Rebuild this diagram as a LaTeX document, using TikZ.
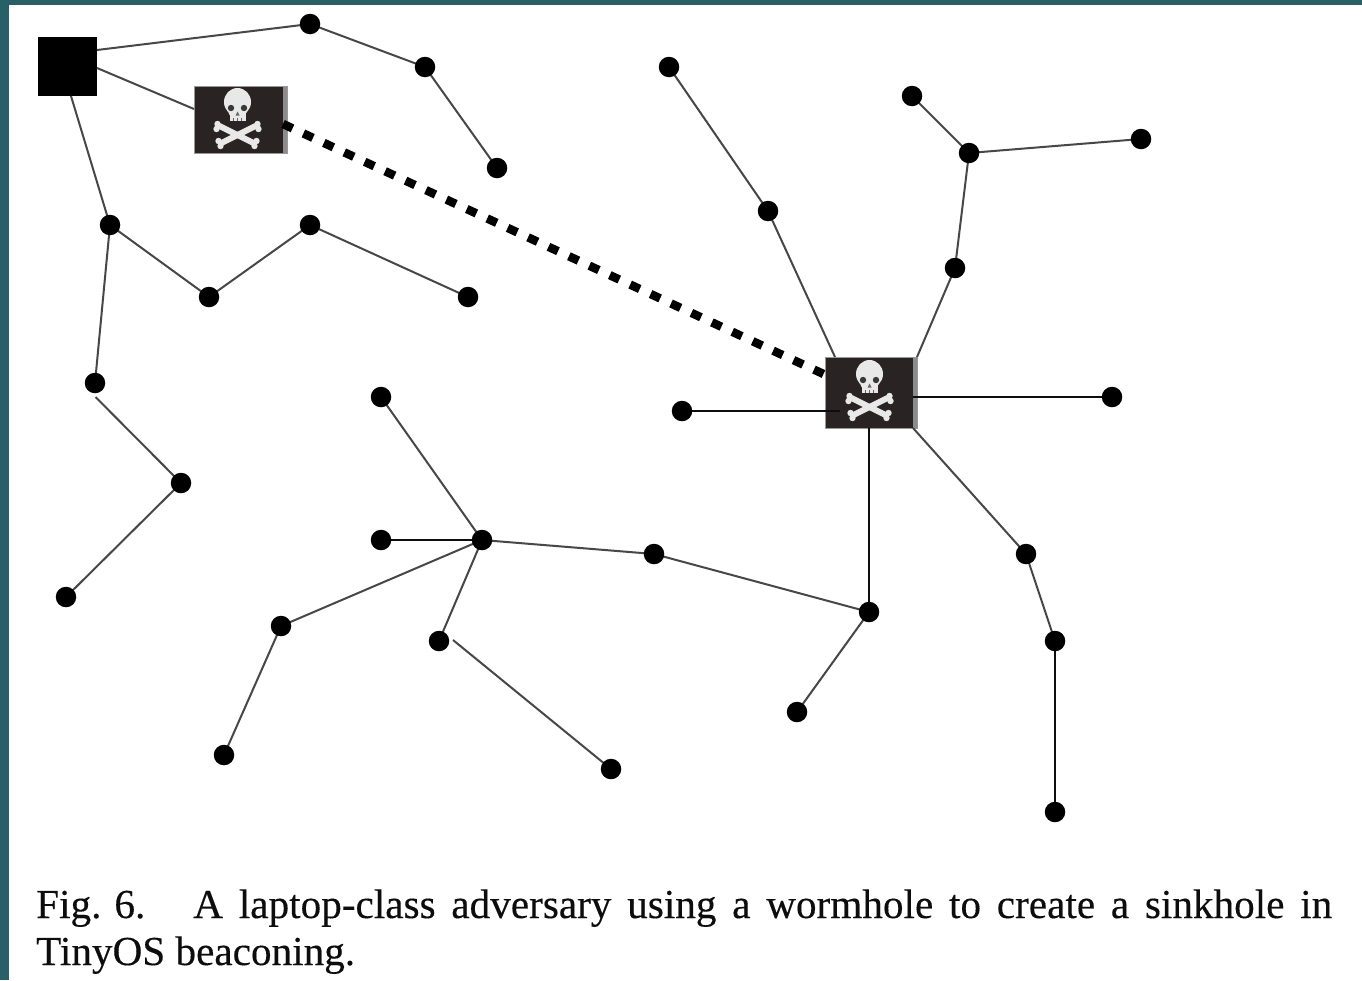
\documentclass[tikz,border=0pt]{standalone}
\usepackage{fontspec}
\setmainfont[FakeBold=0.3]{Liberation Serif}
\usetikzlibrary{calc}
\pgfdeclarelayer{dots}
\pgfsetlayers{main,dots}
\definecolor{frame}{HTML}{28606A}
\definecolor{flagbg}{HTML}{2A2323}
\definecolor{bone}{HTML}{E8E8E8}
\tikzset{x=1pt,y=-1pt,
  dot/.style={circle,fill=black,inner sep=0pt,minimum size=20.5pt},
  thin edge/.style={draw=black!72,line width=2pt},
  bold edge/.style={draw=black!95,line width=2.6pt},
  wormhole/.style={draw=black,line width=8.5pt,dash pattern=on 10.5pt off 12pt},
  capt/.style={anchor=base west,inner sep=0pt,font=\fontsize{41.2}{47}\selectfont,text=black!95},
  flagbox/.style={rectangle,fill=flagbg,draw=black!40,line width=.8pt,inner sep=0pt,
    path picture={\fill[black!45] ([xshift=-4.5pt]path picture bounding box.north east) rectangle (path picture bounding box.south east);}},
}
\newcommand{\skullmark}[1]{%
  \begin{scope}[shift={#1}]
    % crossed bones
    \draw[bone,line width=6pt,line cap=round] (-18,38) -- (16,55);
    \draw[bone,line width=6pt,line cap=round] (18,38) -- (-16,55);
    \fill[bone] (-20,36) circle (3.2pt) (-21,41) circle (3.2pt) (20,36) circle (3.2pt) (21,41) circle (3.2pt)
                (-19,53) circle (3.2pt) (-17,58) circle (3.2pt) (19,53) circle (3.2pt) (17,58) circle (3.2pt);
    % head and jaw
    \fill[bone] (0,14) ellipse (13.5pt and 14pt);
    \fill[bone] (-8,18) -- (8,18) -- (8,33) -- (-8,33) -- cycle;
    \fill[bone] (-12,16) -- (12,16) -- (8,27) -- (-8,27) -- cycle;
    % eyes and nose
    \fill[black!78] (-6.5,20) circle (3.2pt) (6.5,20) circle (3.2pt);
    \fill[black!60] (0,23.5) -- (-2,27.5) -- (2,27.5) -- cycle;
    \draw[black!60,line width=.8pt] (-4,30) -- (-4,33) (0,30) -- (0,33) (4,30) -- (4,33);
  \end{scope}}
\begin{document}
\begin{tikzpicture}
\useasboundingbox (0,0) rectangle (1362,980);
\fill[frame] (0,0) rectangle (1362,980);
\fill[white] (9,5) rectangle (1362,980);

% nodes
\node[rectangle,fill=black,minimum size=59pt,inner sep=0pt] (sink) at (67.5,66.5) {};
\node[flagbox,minimum width=93pt,minimum height=67pt] (flagA) at (240.5,119.5) {};
\node[flagbox,minimum width=92pt,minimum height=71pt] (flagB) at (871,392.5) {};

\begin{pgfonlayer}{dots}
\foreach \n/\px/\py in {
  n1/310/24, n2/425/67, n3/497/168,
  a/110/225, b/209/297, c/310/225, d/468/297, e/95/383, f/181/483, g/66/597,
  h/669/67, i/768/211, j/912/96, k/969/153, l/1141/139, m/955/268,
  o/682/411, p/1112/397,
  q/381/397, r/381/540, s/482/540, t/654/554, u/869/612, v/797/712,
  w/281/626, x/224/755, y/439/641, z/611/769,
  aa/1026/554, bb/1055/641, cc/1055/812}
  \node[dot] (\n) at (\px,\py) {};
\end{pgfonlayer}

% attachment points on the squares and free line ends
\coordinate (sinkR1) at (97,50);
\coordinate (sinkR2) at (97,68);
\coordinate (sinkB) at (71,96);
\coordinate (flagAL) at (194,109);
\coordinate (flagAR) at (283,124);
\coordinate (flagBW) at (830,377);
\coordinate (flagBTL) at (835,357);
\coordinate (flagBTR) at (917,357);
\coordinate (flagBR) at (913,397);
\coordinate (flagBL) at (840,411);
\coordinate (flagBB) at (869,428);
\coordinate (flagBBR) at (913,428);
\coordinate (eOut) at (95.5,397);
\coordinate (yOut) at (453,640);

% connectors
\draw[thin edge] (sinkR1) -- (n1.center) (n1.center) -- (n2.center) (n2.center) -- (n3.center);
\draw[thin edge] (sinkR2) -- (flagAL);
\draw[thin edge] (sinkB) -- (a.center) (a.center) -- (b.center) (b.center) -- (c.center) (c.center) -- (d.center);
\draw[thin edge] (a.center) -- (e.center) (eOut) -- (f.center) (f.center) -- (g.center);
\draw[thin edge] (h.center) -- (i.center) (i.center) -- (flagBTL);
\draw[thin edge] (j.center) -- (k.center) (k.center) -- (l.center) (k.center) -- (m.center) (m.center) -- (flagBTR);
\draw[thin edge] (flagBBR) -- (aa.center) (aa.center) -- (bb.center);
\draw[bold edge] (bb.center) -- (cc.center);
\draw[thin edge] (q.center) -- (s.center) (s.center) -- (t.center) (t.center) -- (u.center) (u.center) -- (v.center);
\draw[thin edge] (s.center) -- (w.center) (w.center) -- (x.center) (s.center) -- (y.center) (yOut) -- (z.center);
\draw[bold edge] (r.center) -- (s.center);
\draw[bold edge] (flagBB) -- (u.center);
\draw[bold edge] (o.center) -- (flagBL);
\draw[bold edge] (flagBR) -- (p.center);

% skulls
\skullmark{(237.5,88)}
\skullmark{(869.5,360)}

\draw[wormhole] (flagAR) -- (flagBW);

% caption
\node[capt] (capA) at (36,918) {\makebox[1296pt][s]{Fig.\hspace{13pt}6.\hspace{48pt}A laptop-class adversary using a wormhole to create a sinkhole in}};
\node[capt] (capB) at (36,965) {TinyOS beaconing.};
\end{tikzpicture}
\end{document}
